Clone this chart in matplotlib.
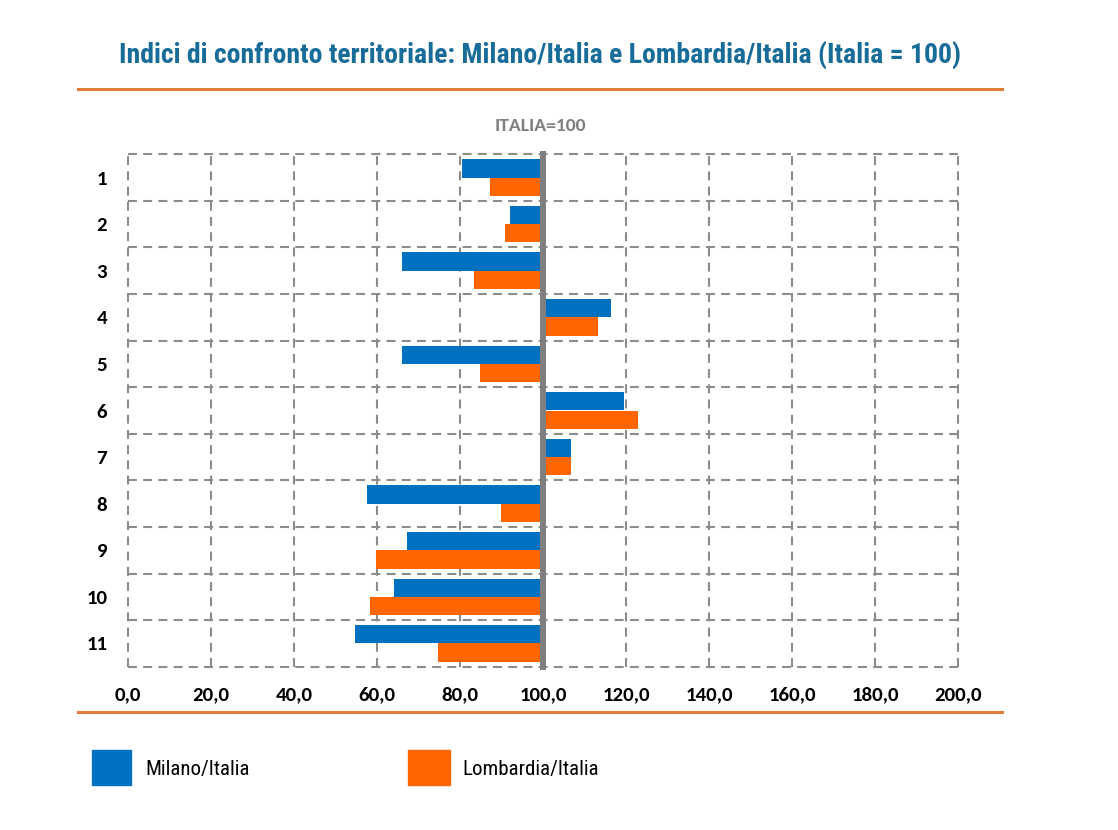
import matplotlib
matplotlib.use("Agg")
import matplotlib.pyplot as plt
from matplotlib.lines import Line2D
from matplotlib.patches import Rectangle
import numpy as np

# ---- data ----
categories = ["1", "2", "3", "4", "5", "6", "7", "8", "9", "10", "11"]
milano = [80.5, 92.0, 66.1, 116.4, 66.1, 119.5, 106.8, 57.5, 67.3, 64.1, 54.8]
lombardia = [87.2, 90.8, 83.3, 113.2, 84.7, 123.0, 106.8, 89.8, 59.7, 58.4, 74.6]
xticks = [0, 20, 40, 60, 80, 100, 120, 140, 160, 180, 200]
xtick_labels = ["0,0", "20,0", "40,0", "60,0", "80,0", "100,0", "120,0", "140,0", "160,0", "180,0", "200,0"]
base = 100
title = "Indici di confronto territoriale: Milano/Italia e Lombardia/Italia (Italia = 100)"
series_names = ["Milano/Italia", "Lombardia/Italia"]

BLUE = "#0070C0"
ORANGE = "#FF6600"
TITLE_C = "#186C99"
RULE_C = "#E07B39"
GRID_C = "#8C8C8C"

NARROW = ["Liberation Sans Narrow", "Roboto Condensed", "Archivo Narrow", "DejaVu Sans"]
TICKF = ["Carlito", "Open Sans", "DejaVu Sans"]

W, H = 1118, 830
fig = plt.figure(figsize=(W / 100, H / 100), dpi=100)
fig.patch.set_facecolor("white")

def fx(px):
    return px / W

def fy(py):
    return 1 - py / H

ax = fig.add_axes([fx(128), fy(666.7), fx(958) - fx(128), fy(154.3) - fy(666.7)])

n = len(categories)
y = np.arange(n)
h = 0.393
m = np.array(milano)
l = np.array(lombardia)
ax.barh(y - h / 2, m - base, left=base, height=h, color=BLUE, zorder=3)
ax.barh(y + h / 2, l - base, left=base, height=h, color=ORANGE, zorder=3)

ax.set_xlim(0, 200)
ax.set_ylim(n - 0.5, -0.5)

# dashed grid incl. borders
dash = (0, (4.3, 3.0))
for xv in xticks:
    ax.axvline(xv, color=GRID_C, lw=1.5, ls=dash, zorder=1, clip_on=False)
for yv in np.arange(-0.5, n, 1.0):
    ax.axhline(yv, color=GRID_C, lw=1.5, ls=dash, zorder=1, clip_on=False)

# reference line at 100
ax.axvline(base, color="#7F7F7F", lw=4.3, zorder=4, clip_on=False)

for s in ax.spines.values():
    s.set_visible(False)

ax.set_xticks(xticks)
ax.set_xticklabels(xtick_labels, fontfamily=TICKF, fontweight="bold", fontsize=15)
ax.set_yticks(y)
ax.set_yticklabels(categories, fontfamily=TICKF, fontweight="bold", fontsize=15)
ax.tick_params(axis="both", length=0)
ax.tick_params(axis="x", pad=14)
ax.tick_params(axis="y", pad=15)

# title and rules
fig.text(fx(540), fy(55), title, ha="center", va="center", color=TITLE_C,
         fontsize=20, fontweight="bold", family=NARROW)
fig.add_artist(Line2D([fx(78), fx(1002)], [fy(89), fy(89)], color=RULE_C, lw=2.2))
fig.add_artist(Line2D([fx(78), fx(1002)], [fy(712), fy(712)], color=RULE_C, lw=2.2))

fig.text(fx(540), fy(126), "ITALIA=100", ha="center", va="center", color="#7F7F7F",
         fontsize=14, fontweight="bold", family=TICKF)

# legend
fig.add_artist(Rectangle((fx(92), fy(785)), fx(131) - fx(92), fy(750) - fy(785),
                         transform=fig.transFigure, color=BLUE))
fig.add_artist(Rectangle((fx(408), fy(785)), fx(450) - fx(408), fy(750) - fy(785),
                         transform=fig.transFigure, color=ORANGE))
fig.text(fx(145), fy(769), series_names[0], ha="left", va="center", fontsize=15, family=NARROW)
fig.text(fx(462), fy(769), series_names[1], ha="left", va="center", fontsize=15, family=NARROW)

fig.savefig("out.png", dpi=100)
